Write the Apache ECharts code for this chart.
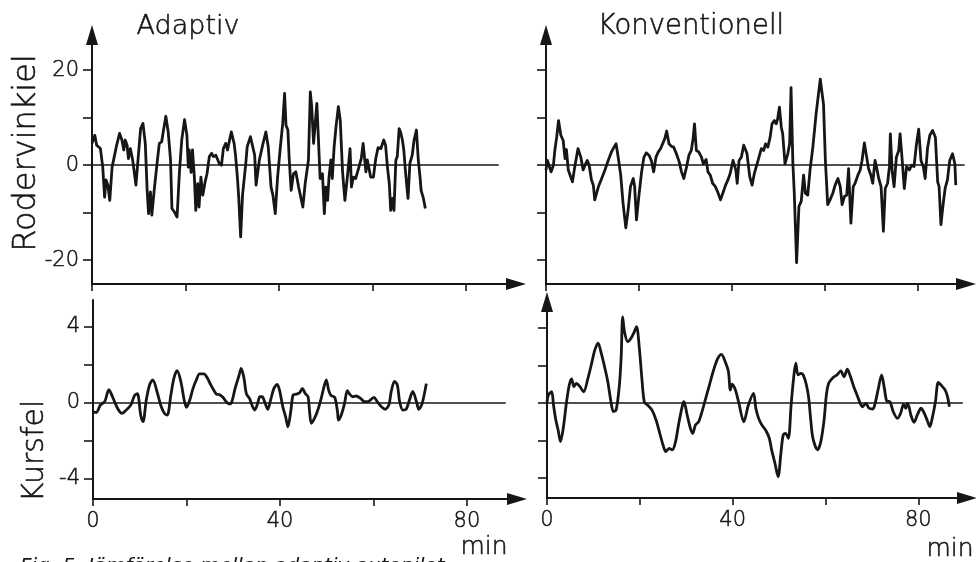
<!DOCTYPE html>
<html><head><meta charset="utf-8">
<script src="https://cdn.jsdelivr.net/npm/echarts@6/dist/echarts.min.js"></script>
<style>html,body{margin:0;padding:0;background:#fff}#c{width:976px;height:562px}</style>
</head><body><div id="c"></div>
<script>
// ---- Data (minutes, values) ----
const adaptRudderT = [0,0.6,1.0,1.8,2.3,2.7,3.0,3.4,3.8,4.3,5.2,5.9,6.4,6.8,7.1,7.5,7.8,8.2,8.7,9.4,9.9,10.4,10.9,11.4,11.8,12.1,12.5,12.8,13.3,14.0,14.4,14.9,15.3,15.8,16.3,16.8,17.1,17.6,18.2,18.7,19.2,19.8,20.3,20.6,20.8,21.2,21.5,21.9,22.2,22.6,22.9,23.3,23.7,24.2,24.6,25.1,25.6,26.0,26.5,27.2,27.7,28.1,28.6,29.0,29.3,29.8,30.4,30.7,31.1,31.4,31.8,32.2,32.9,33.2,33.9,34.3,34.8,35.1,35.8,36.5,37.2,37.7,38.3,38.7,39.2,39.7,40.3,40.8,41.2,41.5,41.9,42.2,42.6,43.1,43.6,44.2,44.6,45.1,45.6,46.0,46.3,46.7,47.0,47.4,47.7,48.1,48.4,48.8,49.3,49.7,50.0,50.4,50.7,51.1,51.4,51.8,52.2,52.7,53.1,53.6,54.1,54.7,55.2,55.5,55.9,56.4,56.9,57.3,57.6,58.0,58.6,58.9,59.2,59.6,60.2,60.7,61.2,61.8,62.4,62.8,63.2,63.6,63.9,64.3,64.6,65.0,65.3,65.7,66.0,66.4,66.7,67.1,67.6,68.0,68.5,68.9,69.4,69.8,70.2,70.4,70.9,71.3];
const adaptRudderV = [4.6,6.3,4.2,3.5,-0.4,-6.7,-3.1,-4.2,-7.4,-0.4,3.9,6.7,5.3,3.2,5.3,4.2,1.4,3.5,1.1,-4.2,1.8,7.7,8.8,4.6,-5.3,-10.2,-5.6,-10.5,-5.3,1.1,4.6,4.9,7.4,10.3,7.0,1.1,-9.1,-9.8,-10.9,-1.5,5.3,9.6,6.3,-0.4,3.2,-1.5,3.2,-2.5,-9.5,-3.9,-8.8,-2.5,-6.3,-3.5,-1.8,1.8,2.5,1.8,2.1,0.4,0,3.5,4.6,3.2,4.7,7.0,4.6,2.1,-2.5,-7.0,-15.1,-6.3,0.4,3.9,6.0,6.3,2.1,-4.2,1.1,4.2,7.0,3.9,-4.6,-6.3,-10.2,-2.5,3.9,8.8,15.1,8.4,7.4,1.1,-5.3,-1.8,-1.4,-4.6,-4.2,-8.8,-3.9,-3.9,1.1,15.4,12.3,4.6,8.1,13.0,6.3,-2.8,-1.8,-10.2,-4.6,-7.4,-2.5,1.1,-2.8,3.9,8.1,12.3,9.5,-1.4,-7.4,-1.8,3.5,-4.6,-2.5,-2.8,-1.1,-1.4,1.4,4.6,-1.4,1.1,-0.4,-2.5,-2.5,1.4,3.7,3.5,5.3,4.2,-0.4,-3.9,-9.5,-7.0,-9.5,1.1,1.8,7.7,7.0,5.3,3.2,-1.8,-7.0,0.4,2.1,5.3,7.4,1.1,-2.8,-5.3,-7.0,-9.1];

const convRudderT = [0,0.3,0.7,1.1,1.6,1.9,2.3,2.7,3.2,3.7,4.1,4.4,4.8,5.7,6.2,6.9,7.5,8.0,8.4,8.9,9.3,9.8,10.2,10.5,11.3,12.0,12.7,13.4,14.1,14.6,15.1,15.6,16.1,16.6,17.2,17.7,18.2,18.8,19.1,19.5,20.0,20.6,21.1,21.6,22.2,22.7,23.2,23.7,24.2,24.7,25.1,25.6,26.0,26.5,27.0,27.5,28.1,28.7,29.2,29.7,30.3,30.8,31.3,31.7,32.0,32.4,32.9,33.5,33.9,34.5,34.9,35.4,35.9,36.5,37.1,37.6,38.1,38.7,39.2,39.7,40.3,40.9,41.2,41.6,42.1,42.6,43.3,43.9,44.4,44.9,45.7,46.4,46.9,47.3,47.8,48.3,48.7,49.2,49.6,49.9,50.3,50.7,51.0,51.5,52.1,52.5,52.8,53.2,53.5,54.0,54.5,55.0,55.5,55.9,56.4,56.9,57.5,58.2,59.1,59.8,60.2,60.7,61.2,61.8,62.3,62.9,63.4,63.8,64.3,64.8,65.2,65.7,66.2,66.6,67.2,67.7,68.1,68.6,69.1,69.5,70.0,70.4,70.9,71.2,71.7,72.2,72.7,73.1,73.6,74.0,74.2,74.6,75.0,75.5,76.0,76.3,76.7,77.2,77.7,78.3,78.8,79.3,79.8,80.3,80.8,81.3,81.7,82.2,82.7,83.3,83.9,84.4,84.7,85.1,85.6,86.0,86.5,87.0,87.6,88.1,88.3];
const convRudderV = [-1.0,1.0,1.2,-1.4,0,3.1,5.9,9.4,6.3,5.2,1.4,3.3,-1.0,-3.5,-0.3,3.5,1.7,-1.0,0,1.0,0,-3.1,-4.2,-7.3,-4.5,-2.8,-1.0,1.0,2.8,3.7,4.5,1.4,-2.1,-8.0,-13.2,-9.4,-4.5,-2.8,-4.5,-11.5,-6.6,-1.4,1.7,2.6,2.1,1.0,-1.4,1.7,2.8,3.5,3.1,5.6,7.2,4.5,4.0,3.8,2.4,0.7,-1.4,-2.8,-0.3,2.1,3.1,5.6,8.7,3.1,2.8,1.7,0.3,1.2,-1.4,-2.1,-3.8,-4.5,-5.9,-7.3,-5.9,-4.2,-3.1,-1.7,1.0,-1.0,-3.8,1.0,1.7,4.2,2.5,-2.4,-4.2,-1.7,1.0,3.5,3.1,4.5,3.8,5.9,8.7,9.4,8.7,9.7,12.2,8.0,6.6,0.3,2.4,4.5,16.3,0.3,-5.9,-20.5,-8.7,-7.6,-2.1,-5.9,-6.3,-1.0,3.8,10.8,18.1,12.8,1.0,-8.3,-7.3,-5.9,-4.2,-2.8,-4.5,-8.3,-6.6,-6.3,-0.7,-12.2,-4.5,-3.8,-2.1,-1.0,1.0,4.7,1.7,-0.7,-2.1,-3.8,1.0,-0.3,-2.8,-4.5,-13.9,-4.9,-3.8,-0.3,6.6,-1.4,-4.5,1.7,3.1,6.6,1.7,-4.9,-0.3,-1.0,0,-0.3,4.2,7.6,1.0,-0.3,-2.8,3.5,6.3,7.3,5.9,-3.5,-4.5,-12.5,-8.0,-4.9,-3.1,1.0,2.4,0.3,-4.2];

const adaptCourseT = [0,0.7,1.6,2.5,3.4,4.3,5.3,6.2,7.1,8.1,8.9,9.5,10.2,10.7,11.4,12.1,12.8,13.8,14.6,15.3,15.9,16.6,17.3,18.0,18.8,19.5,20.0,20.7,21.4,22.1,22.8,23.7,24.5,25.2,25.9,26.4,27.1,27.8,28.5,29.2,29.7,30.4,31.2,31.7,32.3,32.8,33.5,34.1,34.6,35.2,35.7,36.2,36.7,37.4,38.0,38.7,39.4,39.9,40.6,41.2,41.7,42.3,42.8,43.5,44.2,44.8,45.4,46.0,46.3,46.7,47.4,48.1,48.8,49.4,49.9,50.4,50.9,51.7,52.3,52.5,53.1,53.8,54.4,54.9,55.6,56.3,57.3,58.1,58.8,59.5,60.1,60.8,61.7,62.5,63.3,63.8,64.5,65.1,65.6,66.3,67.0,67.7,68.4,69.2,69.7,70.4,71.3];
const adaptCourseV = [-0.45,-0.5,-0.1,0.07,0.7,0.25,-0.3,-0.55,-0.37,-0.1,0.4,0.49,-0.63,-0.98,0.16,0.95,1.21,0.5,-0.2,-0.55,-0.63,0.33,1.3,1.7,1.12,0.16,-0.23,0.16,0.77,1.21,1.53,1.53,1.3,0.95,0.65,0.47,0.44,0.3,0.07,-0.05,0.07,0.77,1.42,1.82,1.3,0.49,0.23,-0.17,-0.37,-0.03,0.33,0.33,0.07,-0.33,0.16,0.77,0.98,0.68,-0.2,-0.72,-1.25,-0.45,0.42,0.47,0.54,0.77,0.5,0.33,-0.37,-1.07,-0.8,-0.37,0.23,0.84,1.21,0.68,0.4,0.3,-0.45,-0.9,-0.63,-0.03,0.65,0.47,0.33,0.37,0.23,0.07,0.07,0.19,0.3,0.07,-0.2,-0.33,-0.1,0.61,1.14,0.95,0.07,-0.37,-0.33,0.16,0.61,0.07,-0.33,-0.03,1.02];

const convCourseT = [0,0.3,1.0,1.4,1.9,2.4,2.9,3.5,4.2,4.8,5.3,5.8,6.3,7.1,7.9,8.8,9.6,10.3,11.0,11.7,12.4,13.1,13.8,14.3,14.9,15.6,16.0,16.3,16.7,17.4,18.1,18.8,19.3,19.9,20.5,21.0,21.7,22.6,23.5,24.3,25.0,25.6,26.3,27.0,27.7,28.4,29.2,29.5,30.2,30.9,31.4,32.0,32.7,33.4,34.2,35.0,35.9,36.8,37.6,38.4,39.1,39.5,39.9,40.6,41.3,42.4,43.4,44.5,45.0,45.6,46.3,47.1,47.9,48.4,49.1,49.8,50.4,50.9,51.4,52.0,52.6,53.1,53.6,54.1,54.7,55.2,55.9,56.4,56.8,57.3,58.3,59.0,59.7,60.2,60.7,61.6,62.5,63.3,64.0,64.7,65.4,66.1,66.8,67.5,68.0,68.7,69.4,70.2,70.7,71.4,72.1,72.7,73.2,73.9,74.6,75.5,76.2,76.8,77.3,77.6,78.0,78.4,79.1,79.8,80.6,81.3,81.9,82.5,83.0,83.7,84.3,84.9,85.8,86.3,86.7];
const convCourseV = [0.03,0.43,0.6,-0.11,-0.91,-1.44,-2.06,-1.35,0.04,0.96,1.28,0.87,1.05,0.87,0.6,1.3,2.1,2.82,3.2,2.65,1.94,1.14,0.04,-0.46,-0.37,0.96,2.56,4.6,3.8,3.27,3.45,3.8,4.07,2.92,1.14,0.03,-0.11,-0.37,-0.91,-1.62,-2.24,-2.6,-2.42,-2.5,-2.06,-1.08,-0.11,0.07,-0.64,-1.35,-1.62,-1.17,-0.99,-0.46,0.25,0.96,1.76,2.38,2.6,2.2,1.67,0.69,1.0,0.69,0.04,-1.0,-0.11,0.51,-0.28,-0.82,-1.17,-1.44,-1.88,-2.5,-3.2,-3.93,-2.68,-1.7,-1.62,-1.88,-0.11,1.23,2.12,1.5,1.58,1.5,0.96,0.25,-0.82,-1.88,-2.5,-2.06,-0.91,0.43,1.05,1.35,1.5,1.71,1.4,1.81,1.4,0.87,0.43,-0.02,-0.2,-0.02,-0.28,-0.32,-0.02,0.78,1.5,0.78,0.11,0.07,-0.46,-0.82,-0.55,-0.07,-0.28,-0.02,-0.2,-0.64,-1.03,-0.64,-0.28,-0.55,-0.91,-1.26,-0.82,0.07,1.1,0.96,0.69,0.34,-0.2];

// ---- Axis ticks / labels ----
const rudderTicks = [-20, -10, 0, 10, 20];
const rudderLabels = [-20, 0, 20];
const courseTicks = [-4, -2, 0, 2, 4];
const courseLabels = [-4, 0, 4];
const timeTicks = [0, 20, 40, 60, 80];
const timeLabels = [0, 40, 80];

const titles = ['Adaptiv', 'Konventionell'];
const yNames = ['Rodervinkiel', 'Kursfel'];
const unitLabel = 'min';
const caption = 'Fig. 5. Jämförelse mellan adaptiv autopilot';

function zip(t, v) { return t.map((x, i) => [x, v[i]]); }

const INK = '#161616';
const FONT = '"DejaVu Sans", sans-serif';

function xAxis(grid, max, labels) {
  return {
    type: 'value', gridIndex: grid, min: 0, max: max,
    splitLine: { show: false },
    axisLine: { show: true, onZero: false, symbol: ['none', 'triangle'], symbolSize: [12, 20],
      lineStyle: { color: INK, width: 2 } },
    axisTick: { show: true, customValues: timeTicks, length: 7, lineStyle: { color: INK, width: 1.6 } },
    axisLabel: labels ? { show: true, customValues: timeLabels, color: INK, fontSize: 21,
      fontFamily: FONT, fontWeight: 200, textBorderColor: INK, textBorderWidth: 0.5, margin: 12 } : { show: false }
  };
}
function yAxis(grid, min, max, ticks, labels, arrow) {
  return {
    type: 'value', gridIndex: grid, min: min, max: max,
    splitLine: { show: false },
    axisLine: { show: true, onZero: false, symbol: arrow ? ['none', 'triangle'] : 'none', symbolSize: [12, 20],
      lineStyle: { color: INK, width: 2 } },
    axisTick: { show: true, customValues: ticks, length: 9, lineStyle: { color: INK, width: 1.6 } },
    axisLabel: labels ? { show: true, customValues: labels, color: INK, fontSize: 21,
      fontFamily: FONT, fontWeight: 200, textBorderColor: INK, textBorderWidth: 0.5, margin: 13 } : { show: false }
  };
}
function lineSeries(grid, data, zeroEnd, smooth) {
  return {
    type: 'line', xAxisIndex: grid, yAxisIndex: grid, data: data,
    showSymbol: false, smooth: smooth, silent: true,
    lineStyle: { color: INK, width: 2.8, join: 'round' },
    markLine: { silent: true, symbol: 'none', label: { show: false },
      lineStyle: { color: INK, width: 1.7, type: 'solid' },
      data: [[{ coord: [0, 0] }, { coord: [zeroEnd, 0] }]] }
  };
}
function txt(x, y, text, size, rot) {
  return { type: 'text', x: x, y: y, rotation: rot || 0,
    style: { text: text, font: '200 ' + size + 'px ' + FONT, fill: INK, stroke: INK, lineWidth: 0.55,
      textAlign: 'center', textVerticalAlign: 'middle' } };
}

const chart = echarts.init(document.getElementById('c'), null, { renderer: 'canvas' });
chart.setOption({
  animation: false,
  backgroundColor: '#fff',
  grid: [
    { left: 92, top: 35, width: 424, height: 249 },
    { left: 546, top: 35, width: 420, height: 249 },
    { left: 93, top: 300, width: 424, height: 199 },
    { left: 547, top: 302, width: 420, height: 196 }
  ],
  xAxis: [
    xAxis(0, 90.7, false),
    xAxis(1, 90.5, false),
    xAxis(2, 90.7, true),
    xAxis(3, 90.5, true)
  ],
  yAxis: [
    yAxis(0, -25, 27.4, rudderTicks, rudderLabels, true),
    yAxis(1, -25, 27.4, rudderTicks, null, true),
    yAxis(2, -5.05, 5.42, courseTicks, courseLabels, false),
    yAxis(3, -5.07, 5.39, courseTicks, null, true)
  ],
  series: [
    lineSeries(0, zip(adaptRudderT, adaptRudderV), 87, false),
    lineSeries(1, zip(convRudderT, convRudderV), 90.2, false),
    lineSeries(2, zip(adaptCourseT, adaptCourseV), 88.3, 0.3),
    lineSeries(3, zip(convCourseT, convCourseV), 89.6, 0.3)
  ],
  graphic: [
    txt(188, 27, titles[0], 27),
    txt(691, 27, titles[1], 27.5),
    txt(27, 153, yNames[0], 32, Math.PI / 2),
    txt(35, 451, yNames[1], 30, Math.PI / 2),
    txt(484, 547, unitLabel, 25),
    txt(950, 549, unitLabel, 25),
    { type: 'text', x: 20, y: 557, style: { text: caption, font: 'italic 20px ' + FONT, fill: INK, textAlign: 'left', textVerticalAlign: 'top' } }
  ]
});
</script>
</body></html>
